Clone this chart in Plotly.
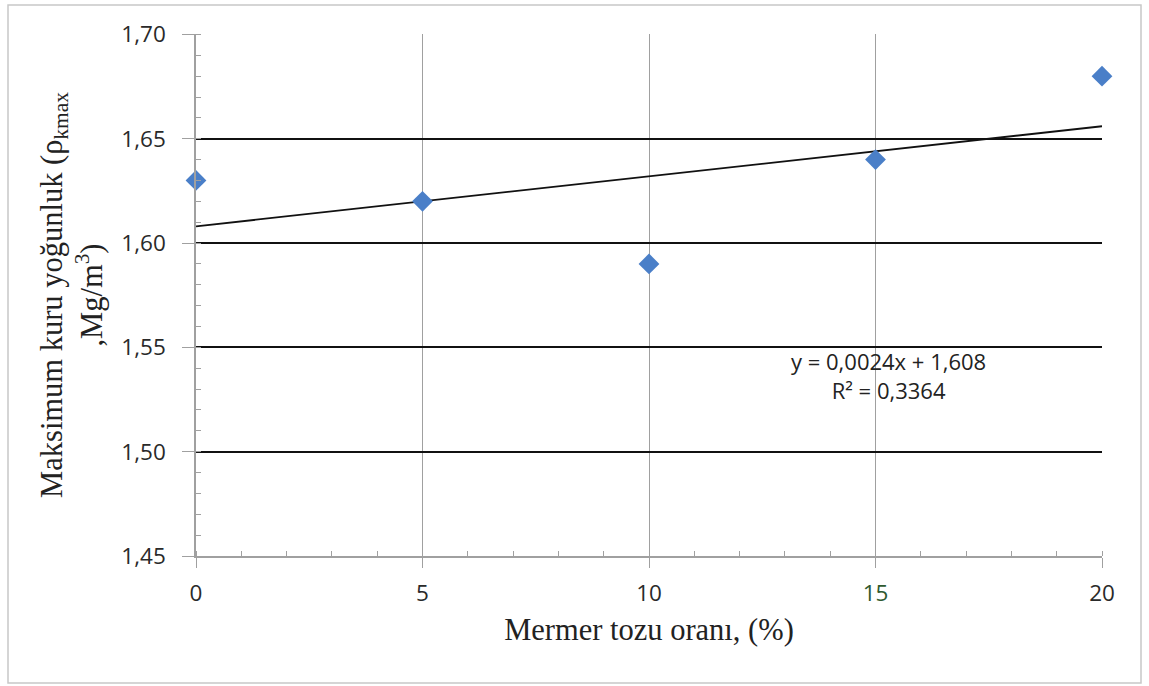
import numpy as np
import plotly.graph_objects as go

# Data
mermer_orani = [0, 5, 10, 15, 20]
yogunluk = [1.63, 1.62, 1.59, 1.64, 1.68]
x_tick_vals = [0, 5, 10, 15, 20]
x_tick_text = ["0", "5", "10", "<span style='color:#2f5a2f'>15</span>", "20"]
y_tick_vals = [1.45, 1.50, 1.55, 1.60, 1.65, 1.70]
y_tick_text = ["1,45", "1,50", "1,55", "1,60", "1,65", "1,70"]

# Linear trendline
slope, intercept = np.polyfit(mermer_orani, yogunluk, 1)
r2 = np.corrcoef(mermer_orani, yogunluk)[0, 1] ** 2
trend_x = [min(mermer_orani), max(mermer_orani)]
trend_y = [slope * v + intercept for v in trend_x]

fig = go.Figure()
fig.add_trace(go.Scatter(
    x=trend_x, y=trend_y, mode="lines",
    line=dict(color="#111111", width=1.8), showlegend=False, hoverinfo="skip"))
fig.add_trace(go.Scatter(
    x=mermer_orani, y=yogunluk, mode="markers", cliponaxis=False,
    marker=dict(symbol="diamond", size=16, color="#4a7fc8"),
    showlegend=False))

tick_font = dict(family="Open Sans, Liberation Sans, sans-serif", size=22.5, color="#2a2a2a")
title_font = dict(family="Liberation Serif, Times New Roman, serif", size=30.5, color="#222222")

fig.update_layout(
    width=1149, height=686,
    margin=dict(l=196, r=47, t=34, b=130),
    paper_bgcolor="white", plot_bgcolor="white",
    xaxis=dict(
        range=[0, 20], tickvals=x_tick_vals, ticktext=x_tick_text,
        showgrid=True, gridcolor="#a0a0a0", gridwidth=1.2,
        showline=True, linecolor="#a0a0a0", linewidth=1.5,
        ticks="outside", ticklen=10, tickcolor="#a0a0a0", ticklabelstandoff=6,
        minor=dict(dtick=1, ticks="inside", ticklen=5, tickcolor="#a0a0a0", showgrid=False),
        tickfont=tick_font, zeroline=False,
        title=dict(text="Mermer tozu oranı, (%)", font=title_font, standoff=12),
    ),
    yaxis=dict(
        range=[1.45, 1.7002], tickvals=y_tick_vals, ticktext=y_tick_text,
        showgrid=True, gridcolor="#111111", gridwidth=1.6,
        showline=True, linecolor="#a0a0a0", linewidth=1.5,
        ticks="outside", ticklen=12, tickcolor="#a0a0a0", ticklabelstandoff=12,
        minor=dict(dtick=0.01, ticks="inside", ticklen=5, tickcolor="#a0a0a0", showgrid=False),
        tickfont=tick_font, zeroline=False,
        title=dict(text="Maksimum kuru yoğunluk (ρ<sub>kmax</sub><br>,Mg/m<sup>3</sup>)",
                   font=title_font, standoff=10),
    ),
)

fig.add_annotation(
    x=15.28, y=1.5367, xref="x", yref="y",
    text=f"y = {slope:.4f}x + {intercept:.3f}".replace(".", ",") + "<br>R² = " + f"{r2:.4f}".replace(".", ","),
    showarrow=False, align="center",
    font=dict(family="Open Sans, Liberation Sans, sans-serif", size=22, color="#222222"),
)

# Outer chart frame
fig.add_shape(type="rect", xref="paper", yref="paper",
              x0=(8 - 196) / 906, x1=(1141 - 196) / 906,
              y0=(556 - 683) / 522, y1=(556 - 5) / 522,
              line=dict(color="#c8c8c8", width=1.5), fillcolor="rgba(0,0,0,0)", layer="below")

fig.write_html("out.html")
